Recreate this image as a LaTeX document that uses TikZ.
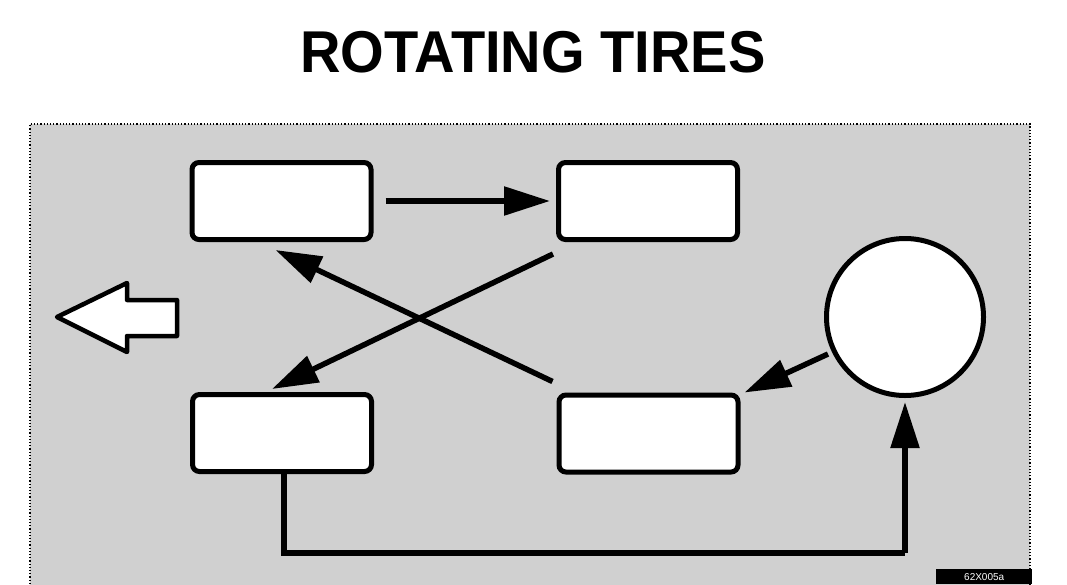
\documentclass[tikz,border=0pt]{standalone}
\usepackage{fontspec}
\setmainfont{Liberation Sans}
\usetikzlibrary{arrows.meta,calc}
\definecolor{panelgray}{RGB}{208,208,208}
\tikzset{
  x=1pt,y=-1pt,
  tire/.style={draw=black,line width=5pt,rounded corners=7pt,fill=white,minimum width=179pt,minimum height=77pt,inner sep=0pt},
  spare/.style={draw=black,line width=5pt,circle,fill=white,minimum size=157pt,inner sep=0pt},
  flow/.style={line width=5.5pt,-{Triangle[length=46pt,width=28pt]}},
  plain/.style={line width=5.5pt},
}
\begin{document}
\begin{tikzpicture}
\useasboundingbox (0,0) rectangle (1067,584);
\fill[white] (0,0) rectangle (1067,584);
\begin{scope}
\clip (0,0) rectangle (1067,584);
% panel
\fill[panelgray] (30,124) rectangle (1030,600);
\draw[black,line width=1.2pt,dotted] (30,600) -- (30,124) -- (1030,124) -- (1030,600);
% title
\node[font=\bfseries\fontsize{59}{59}\selectfont,anchor=base,xscale=0.95] (title) at (533,72) {ROTATING TIRES};
% tires
\node[tire] (tl) at (281.5,201) {};
\node[tire] (tr) at (648,201) {};
\node[tire] (bl) at (282,433) {};
\node[tire] (br) at (648.5,433.5) {};
\node[spare] (sp) at (905,317) {};
% direction arrow
\draw[line width=4.5pt,fill=white,line join=round] (57,317) -- (127,283) -- (127,300) -- (177,300) -- (177,336) -- (127,336) -- (127,352) -- cycle;
% connectors
\coordinate (trout) at ($(tr.south west)+(-3,12)$);
\coordinate (brout) at ($(br.north west)+(-4,-11)$);
\coordinate (blin) at ($(bl.north west)+(82,-3)$);
\coordinate (tlin) at ($(tl.south west)+(86,8)$);
\coordinate (spout) at ($(sp.center)+(-77,37)$);
\draw[flow] ($(tl.east)+(12,0)$) -- ($(tr.west)+(-6,0)$);
\draw[flow] (trout) -- (blin);
\draw[flow] (brout) -- (tlin);
\draw[flow] (spout) -- ($(br.north east)+(4,0)$);
\coordinate (corner1) at ($(bl.south west)+(94,79)$);
\coordinate (corner2) at (sp.south |- corner1);
\draw[plain] (bl.south west) ++(94,0) -- (corner1) -- (corner2);
\draw[flow] (corner2) -- ($(sp.south)+(0,4)$);
% code label
\node[fill=black,text=white,font=\fontsize{10}{10}\selectfont,anchor=north west,inner xsep=6pt,inner ysep=2pt,minimum width=96pt,minimum height=15pt] (code) at (936,569) {62X005a};
\end{scope}
\end{tikzpicture}
\end{document}
